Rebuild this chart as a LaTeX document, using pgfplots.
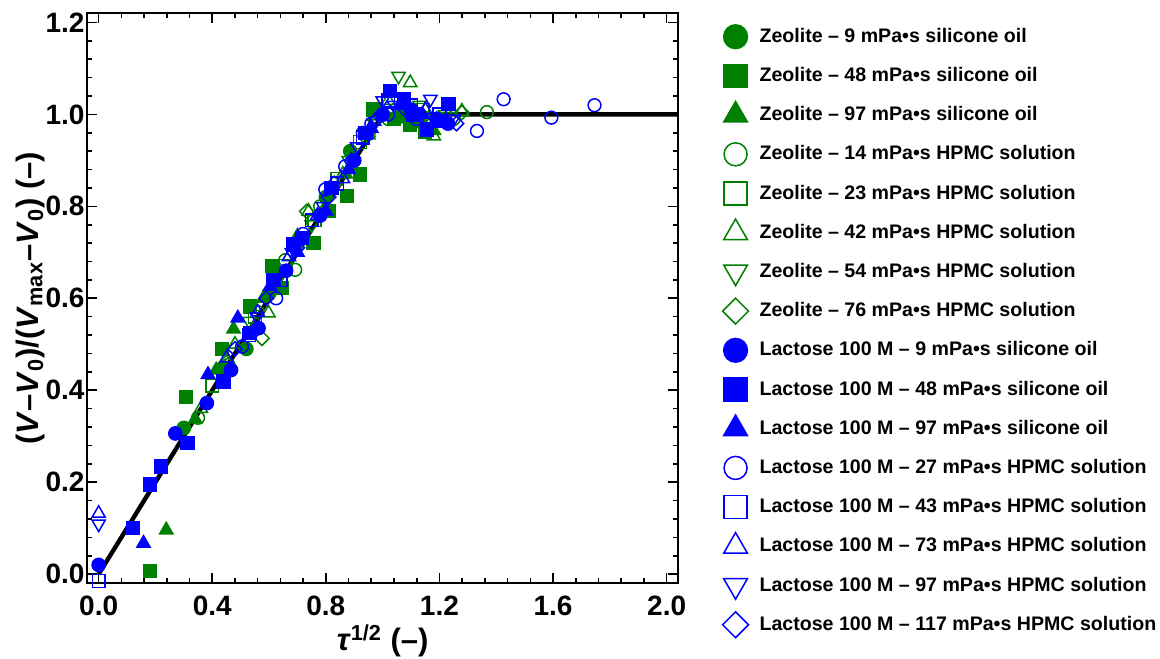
\documentclass[border=0pt]{standalone}
\usepackage{fontspec}
\setmainfont{Liberation Sans}
\usepackage{pgfplots}
\pgfplotsset{compat=1.18}
\definecolor{zg}{RGB}{0,128,0}
\definecolor{lb}{RGB}{0,0,255}
\pgfdeclareplotmark{rdiamond}{%
  \pgfpathmoveto{\pgfqpoint{0pt}{\pgfplotmarksize}}%
  \pgfpathlineto{\pgfqpoint{\pgfplotmarksize}{0pt}}%
  \pgfpathlineto{\pgfqpoint{0pt}{-\pgfplotmarksize}}%
  \pgfpathlineto{\pgfqpoint{-\pgfplotmarksize}{0pt}}%
  \pgfpathclose\pgfusepathqstroke}
\pgfplotsset{
  mk/.style={only marks, line width=0.75pt, mark size=3.3pt,
    legend image code/.code={\draw[##1, mark size=1.8\pgfplotmarksize] plot coordinates {(0pt,0pt)};}},
}
\begin{document}
\begin{tikzpicture}
\useasboundingbox (0,0) rectangle (580pt,329pt);
\begin{axis}[
  at={(43.65pt,37.35pt)}, anchor=south west, scale only axis,
  width=295.35pt, height=285pt,
  xmin=-0.04, xmax=2.04, ymin=-0.02, ymax=1.22,
  xtick={0,0.4,0.8,1.2,1.6,2.0}, ytick={0,0.2,0.4,0.6,0.8,1.0,1.2},
  minor x tick num=4, minor y tick num=4,
  tick align=inside, major tick length=5pt, minor tick length=2.5pt,
  tick style={black, line width=0.8pt},
  axis line style={line width=1pt},
  /pgf/number format/fixed, /pgf/number format/fixed zerofill,
  /pgf/number format/precision=1, /pgf/number format/assume math mode=true,
  ticklabel style={font=\fontsize{14}{14}\selectfont\bfseries},
  xticklabel style={inner sep=0pt, yshift=-6.3pt},
  yticklabel style={inner sep=0pt, xshift=-1.2pt},
  label style={font=\fontsize{15.5}{16}\selectfont\bfseries},
  xlabel={\textit{τ}\textsuperscript{1/2} (–)},
  ylabel={(\textit{V}–\textit{V}\textsubscript{0})/(\textit{V}\textsubscript{max}–\textit{V}\textsubscript{0}) (–)},
  x label style={at={(axis description cs:0.5,-0.101)}, anchor=center},
  y label style={at={(axis description cs:-0.097,0.5)}, anchor=center},
  legend cell align=left,
  legend style={at={(axis description cs:1.0755,0.9933)}, anchor=north west,
    draw=none, fill=none, inner sep=0pt, outer sep=0pt, row sep=0pt, column sep=5.5pt,
    nodes={inner sep=0pt, minimum height=19.6pt, font=\fontsize{9.8}{10}\selectfont\bfseries}},
]
% Zeolite - 9 silicone oil
\addplot[mk, color=zg, mark=*] coordinates {(0.30,0.318) (0.44,0.45) (0.52,0.49) (0.60,0.61) (0.70,0.72) (0.80,0.82) (0.886,0.92) (0.95,0.96) (1.00,1.00) (1.07,1.00) (1.13,0.985) (1.20,0.99)};
\addlegendentry{Zeolite – 9 mPa•s silicone oil}
\addplot[mk, color=zg, mark=square*, mark size=3.2pt] coordinates {(0.18,0.007) (0.308,0.385) (0.434,0.49) (0.534,0.582) (0.61,0.671) (0.645,0.622) (0.757,0.72) (0.81,0.79) (0.874,0.822) (0.921,0.869) (0.968,1.011) (1.097,0.978) (1.15,0.962) (1.04,0.99)};
\addlegendentry{Zeolite – 48 mPa•s silicone oil}
\addplot[mk, color=zg, mark=triangle*, mark size=3.8pt] coordinates {(0.238,0.096) (0.34,0.337) (0.414,0.444) (0.475,0.533) (0.58,0.60) (0.70,0.735) (0.79,0.79) (0.87,0.87) (0.95,0.955) (1.06,0.99) (1.12,1.00) (1.18,0.965)};
\addlegendentry{Zeolite – 97 mPa•s silicone oil}
\addplot[mk, color=zg, mark=o, mark size=3.2pt] coordinates {(0.35,0.34) (0.457,0.455) (0.56,0.57) (0.657,0.683) (0.692,0.662) (0.78,0.80) (0.93,0.96) (1.02,0.99) (1.14,0.995) (1.25,0.99) (1.367,1.005)};
\addlegendentry{Zeolite – 14 mPa•s HPMC solution}
\addplot[mk, color=zg, mark=square, mark size=3.2pt] coordinates {(0.40,0.41) (0.55,0.56) (0.66,0.67) (0.76,0.77) (0.84,0.86) (0.92,0.94) (1.04,1.00) (1.14,1.01) (1.22,0.99)};
\addlegendentry{Zeolite – 23 mPa•s HPMC solution}
\addplot[mk, color=zg, mark=triangle, mark size=3.8pt] coordinates {(0.36,0.36) (0.48,0.50) (0.598,0.568) (0.739,0.789) (0.86,0.87) (0.95,0.96) (1.02,1.03) (1.097,1.069) (1.18,0.953) (1.279,1.007)};
\addlegendentry{Zeolite – 42 mPa•s HPMC solution}
\addplot[mk, color=zg, mark=triangle, mark size=3.8pt, mark options={rotate=180}] coordinates {(0.42,0.43) (0.53,0.55) (0.64,0.65) (0.75,0.76) (0.88,0.90) (0.97,0.98) (1.056,1.083) (1.13,1.02) (1.22,1.00)};
\addlegendentry{Zeolite – 54 mPa•s HPMC solution}
\addplot[mk, color=zg, mark=rdiamond, mark size=3.6pt] coordinates {(0.45,0.46) (0.575,0.513) (0.62,0.65) (0.733,0.789) (0.83,0.85) (0.94,0.95) (1.04,1.01) (1.16,0.99) (1.279,1.004)};
\addlegendentry{Zeolite – 76 mPa•s HPMC solution}
% Lactose
\addplot[mk, color=lb, mark=*] coordinates {(0.0,0.02) (0.27,0.306) (0.381,0.372) (0.466,0.444) (0.563,0.535) (0.66,0.66) (0.78,0.78) (0.90,0.90) (1.00,1.00) (1.10,1.01) (1.19,0.99) (1.23,0.98)};
\addlegendentry{Lactose 100 M – 9 mPa•s silicone oil}
\addplot[mk, color=lb, mark=square*, mark size=3.2pt] coordinates {(0.12,0.10) (0.18,0.195) (0.22,0.234) (0.313,0.285) (0.44,0.419) (0.534,0.524) (0.616,0.64) (0.686,0.717) (0.716,0.731) (0.82,0.84) (0.94,0.96) (1.027,1.051) (1.074,1.033) (1.109,1.00) (1.156,0.967) (1.20,0.985) (1.232,1.022)};
\addlegendentry{Lactose 100 M – 48 mPa•s silicone oil}
\addplot[mk, color=lb, mark=triangle*, mark size=3.8pt] coordinates {(0.158,0.067) (0.385,0.434) (0.49,0.557) (0.604,0.626) (0.70,0.70) (0.80,0.79) (0.88,0.88) (0.96,0.97) (1.06,1.02) (1.14,1.00)};
\addlegendentry{Lactose 100 M – 97 mPa•s silicone oil}
\addplot[mk, color=lb, mark=o, mark size=3.2pt] coordinates {(0.505,0.495) (0.625,0.60) (0.72,0.74) (0.798,0.837) (0.868,0.887) (0.96,0.98) (1.02,1.00) (1.12,0.99) (1.332,0.964) (1.426,1.033) (1.594,0.993) (1.746,1.02)};
\addlegendentry{Lactose 100 M – 27 mPa•s HPMC solution}
\addplot[mk, color=lb, mark=square, mark size=3.2pt] coordinates {(0.0,-0.015) (0.53,0.52) (0.64,0.64) (0.75,0.77) (0.84,0.85) (0.93,0.95) (1.02,1.03) (1.10,1.02) (1.20,1.00)};
\addlegendentry{Lactose 100 M – 43 mPa•s HPMC solution}
\addplot[mk, color=lb, mark=triangle, mark size=3.8pt] coordinates {(0.0,0.132) (0.45,0.47) (0.56,0.57) (0.67,0.69) (0.77,0.78) (0.86,0.86) (0.97,0.985) (1.08,1.03) (1.15,1.01)};
\addlegendentry{Lactose 100 M – 73 mPa•s HPMC solution}
\addplot[mk, color=lb, mark=triangle, mark size=3.8pt, mark options={rotate=180}] coordinates {(0.0,0.109) (0.557,0.56) (0.68,0.70) (0.79,0.80) (0.91,0.93) (1.00,1.03) (1.04,1.02) (1.168,1.033) (1.25,0.99)};
\addlegendentry{Lactose 100 M – 97 mPa•s HPMC solution}
\addplot[mk, color=lb, mark=rdiamond, mark size=3.6pt] coordinates {(0.48,0.49) (0.59,0.60) (0.70,0.71) (0.81,0.82) (0.89,0.90) (0.98,0.99) (1.08,1.01) (1.19,0.99) (1.26,0.98)};
\addlegendentry{Lactose 100 M – 117 mPa•s HPMC solution}
% fit line
\addplot[black, line width=2.2pt, no marks, forget plot] coordinates {(0,0) (1,1) (2.04,1)};
\end{axis}
\end{tikzpicture}
\end{document}
